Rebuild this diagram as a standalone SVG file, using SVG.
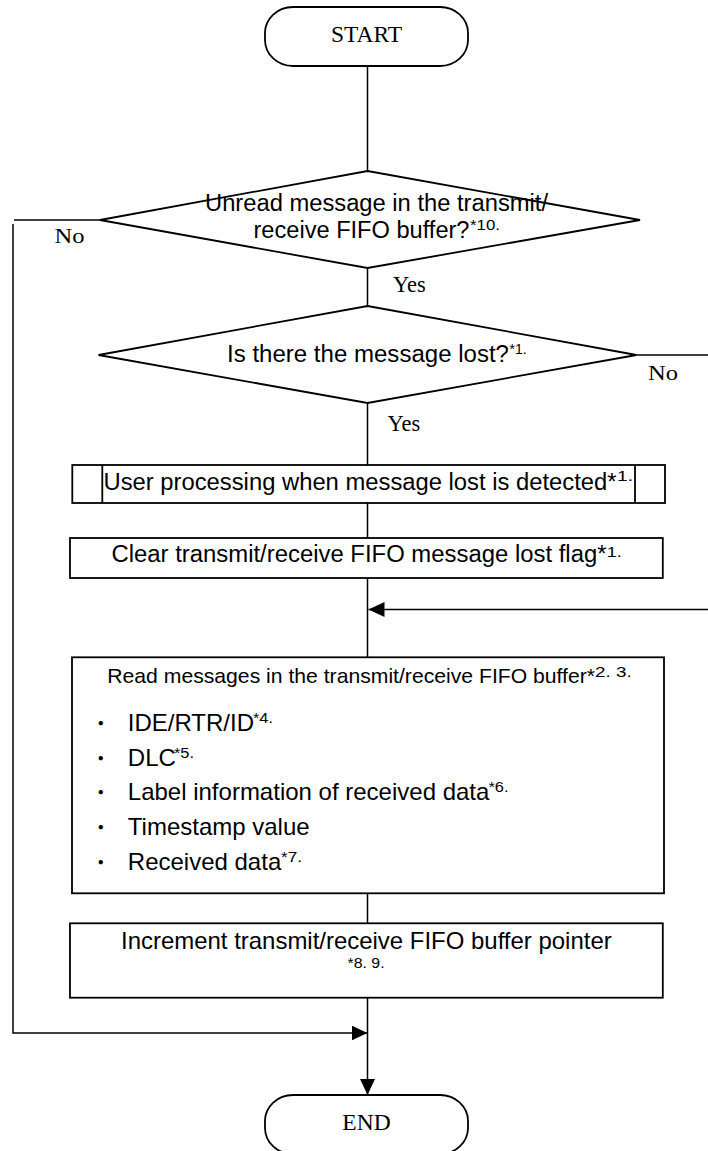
<svg xmlns="http://www.w3.org/2000/svg" width="708" height="1151" viewBox="0 0 708 1151">
  <style>
    .shape { fill: #ffffff; stroke: #000000; stroke-width: 1.8; }
    .conn { fill: none; stroke: #000000; stroke-width: 1.5; }
    .serif { font-family: "Liberation Serif", "Times New Roman", serif; fill: #000000; }
    .sans { font-family: "Liberation Sans", Arial, sans-serif; fill: #000000; }
    .sup { font-family: "Liberation Sans", Arial, sans-serif; fill: #000000; font-size: 14px; }
    .dot { font-family: "Liberation Sans", "Noto Sans CJK JP", sans-serif; fill: #000000; font-size: 20px; }
  </style>
  <defs>
    <marker id="arrow" markerUnits="userSpaceOnUse" markerWidth="16" markerHeight="15" refX="16" refY="7.5" orient="auto">
      <path d="M0,0 L16,7.5 L0,15 Z" fill="#000000"/>
    </marker>
  </defs>

  <rect x="0" y="0" width="708" height="1151" fill="#ffffff"/>

  <!-- connectors -->
  <g id="connectors">
    <line class="conn" x1="367.5" y1="66" x2="367.5" y2="171"/>
    <line class="conn" x1="367.5" y1="268" x2="367.5" y2="306"/>
    <line class="conn" x1="367.5" y1="403" x2="367.5" y2="465"/>
    <line class="conn" x1="367.5" y1="503" x2="367.5" y2="538"/>
    <line class="conn" x1="367.5" y1="578" x2="367.5" y2="657"/>
    <line class="conn" x1="367.5" y1="893" x2="367.5" y2="923"/>
    <path class="conn" d="M367.5,998 V1095" marker-end="url(#arrow)"/>
    <!-- "No" branch of the unread-message check -->
    <line class="conn" x1="100" y1="220" x2="14" y2="220"/>
    <path class="conn" d="M13,224 V1033 H367.5" marker-end="url(#arrow)"/>
    <!-- "No" branch of the message-lost check -->
    <path class="conn" d="M636.5,355 H712 V609.5 H368.5" marker-end="url(#arrow)"/>
    <text class="serif" x="54.5" y="243" font-size="21" textLength="30" lengthAdjust="spacingAndGlyphs">No</text>
    <text class="serif" x="393" y="292" font-size="22.5">Yes</text>
    <text class="serif" x="648" y="380" font-size="21" textLength="30" lengthAdjust="spacingAndGlyphs">No</text>
    <text class="serif" x="387.5" y="431" font-size="22.5">Yes</text>
  </g>

  <!-- terminators -->
  <g id="start">
    <rect class="shape" x="265" y="7" width="203" height="59" rx="28" ry="26"/>
    <text class="serif" x="366.5" y="42" font-size="23.5" text-anchor="middle">START</text>
  </g>

  <g id="check-unread">
    <polygon class="shape" points="367.5,171 640,220 367.5,268 100,220"/>
    <text class="sans" x="205" y="211" font-size="23" textLength="343" lengthAdjust="spacingAndGlyphs">Unread message in the transmit/</text>
    <text class="sans" x="253.5" y="238" font-size="23" textLength="216" lengthAdjust="spacingAndGlyphs">receive FIFO buffer?</text>
    <text class="sup" x="470" y="230" textLength="30" lengthAdjust="spacingAndGlyphs">*10.</text>
  </g>

  <g id="check-lost">
    <polygon class="shape" points="367.5,306 636.5,355 367.5,403 98.5,355"/>
    <text class="sans" x="227" y="362" font-size="23" textLength="282" lengthAdjust="spacingAndGlyphs">Is there the message lost?</text>
    <text class="sup" x="509.5" y="353.5" textLength="17" lengthAdjust="spacingAndGlyphs">*1.</text>
  </g>

  <g id="user-processing">
    <rect class="shape" x="72.3" y="465" width="592.7" height="38"/>
    <line class="shape" x1="102.3" y1="465" x2="102.3" y2="503"/>
    <line class="shape" x1="635" y1="465" x2="635" y2="503"/>
    <text class="sans" x="103.5" y="490" font-size="23" textLength="513" lengthAdjust="spacingAndGlyphs">User processing when message lost is detected*</text>
    <text class="sup" x="617" y="481" font-size="15" textLength="16" lengthAdjust="spacingAndGlyphs">1.</text>
  </g>

  <g id="clear-flag">
    <rect class="shape" x="70" y="538" width="592.8" height="40"/>
    <text class="sans" x="111.5" y="562" font-size="23" textLength="495" lengthAdjust="spacingAndGlyphs">Clear transmit/receive FIFO message lost flag*</text>
    <text class="sup" x="606.7" y="556.7" font-size="15" textLength="15" lengthAdjust="spacingAndGlyphs">1.</text>
  </g>

  <g id="read-messages">
    <rect class="shape" x="72" y="657.3" width="592" height="236"/>
    <text class="sans" x="107.3" y="683" font-size="21" textLength="487.7" lengthAdjust="spacingAndGlyphs">Read messages in the transmit/receive FIFO buffer*</text>
    <text class="sup" x="595" y="677.3" font-size="15" textLength="36.7" lengthAdjust="spacingAndGlyphs">2. 3.</text>

    <text class="dot" x="100.7" y="730.5" text-anchor="middle">・</text>
    <text class="sans" x="127.8" y="730.5" font-size="24">IDE/RTR/ID</text>
    <text class="sup" x="253" y="722.5" textLength="20" lengthAdjust="spacingAndGlyphs">*4.</text>

    <text class="dot" x="100.7" y="765.5" text-anchor="middle">・</text>
    <text class="sans" x="127.8" y="765.5" font-size="24">DLC</text>
    <text class="sup" x="174" y="757.5" textLength="20" lengthAdjust="spacingAndGlyphs">*5.</text>

    <text class="dot" x="100.7" y="800.2" text-anchor="middle">・</text>
    <text class="sans" x="127.8" y="800.2" font-size="24">Label information of received data</text>
    <text class="sup" x="488.5" y="792.2" textLength="20" lengthAdjust="spacingAndGlyphs">*6.</text>

    <text class="dot" x="100.7" y="835" text-anchor="middle">・</text>
    <text class="sans" x="127.8" y="835" font-size="24">Timestamp value</text>

    <text class="dot" x="100.7" y="869.5" text-anchor="middle">・</text>
    <text class="sans" x="127.8" y="869.5" font-size="24">Received data</text>
    <text class="sup" x="281" y="861.5" textLength="21" lengthAdjust="spacingAndGlyphs">*7.</text>
  </g>

  <g id="increment-pointer">
    <rect class="shape" x="70" y="923.3" width="592.8" height="74.4"/>
    <text class="sans" x="121" y="948.5" font-size="24" textLength="490.7" lengthAdjust="spacingAndGlyphs">Increment transmit/receive FIFO buffer pointer</text>
    <text class="sup" x="347.6" y="968.3" textLength="37" lengthAdjust="spacingAndGlyphs">*8. 9.</text>
  </g>

  <g id="end">
    <rect class="shape" x="265" y="1095" width="203" height="59" rx="28" ry="26"/>
    <text class="serif" x="366.5" y="1129.5" font-size="23.5" text-anchor="middle">END</text>
  </g>
</svg>
